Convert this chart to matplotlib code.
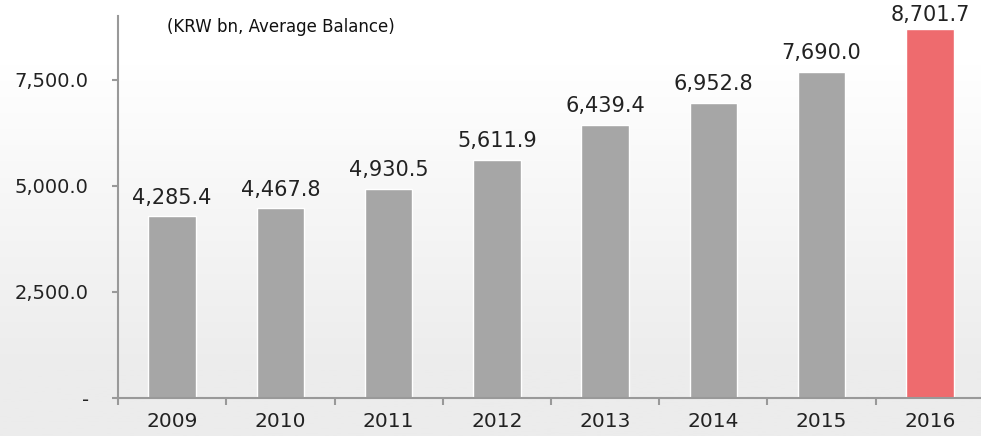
import numpy as np
import matplotlib.pyplot as plt
from matplotlib.ticker import FuncFormatter

years = ["2009", "2010", "2011", "2012", "2013", "2014", "2015", "2016"]
balance = [4285.4, 4467.8, 4930.5, 5611.9, 6439.4, 6952.8, 7690.0, 8701.7]
colors = ["#a6a6a6"] * 7 + ["#ee6b6e"]

fig = plt.figure(figsize=(9.81, 4.36), dpi=100)

# background gradient, white on top to light gray at the bottom
bg = fig.add_axes([0, 0, 1, 1], zorder=-1)
grad = np.linspace(0, 1, 256).reshape(-1, 1)
grad = np.clip((grad - 0.15) / 0.7, 0, 1)
shade = 1 - grad * (1 - 0xec / 255)
bg.imshow(np.dstack([shade, shade, shade]), aspect="auto", extent=[0, 1, 0, 1], origin="upper")
bg.axis("off")

ax = fig.add_axes([118 / 981, 38 / 436, 866 / 981, 382 / 436])
ax.patch.set_alpha(0)
x = np.arange(len(years))
bars = ax.bar(x, balance, width=0.44, color=colors, edgecolor="white", linewidth=1)

# labels sit above the bars, the last one is squeezed under the top edge
for xi, v in zip(x, balance):
    ax.text(xi, min(v + 200, 8790), f"{v:,.1f}", ha="center", va="bottom", fontsize=15, color="#222222")

ax.set_xlim(-0.5, 7.5)
ax.set_ylim(0, 9000)
ax.set_yticks([0, 2500, 5000, 7500])
ax.yaxis.set_major_formatter(FuncFormatter(lambda v, p: "-" if v == 0 else f"{v:,.1f}"))
ax.set_xticks(x)
ax.set_xticklabels(years)
ax.set_xticks(np.arange(-0.5, 8, 1), minor=True)
ax.tick_params(axis="x", which="major", length=0, labelsize=14.5, pad=10, colors="#222222")
ax.tick_params(axis="x", which="minor", length=5, direction="out", color="#999999", width=1.5)
ax.tick_params(axis="y", length=4, width=1.5, color="#999999", labelsize=14, pad=17, labelcolor="#222222")

for s in ["top", "right"]:
    ax.spines[s].set_visible(False)
for s in ["left", "bottom"]:
    ax.spines[s].set_color("#999999")
    ax.spines[s].set_linewidth(1.5)

fig.text(167 / 981, 1 - 27 / 436, "(KRW bn, Average Balance)", fontsize=12, va="center", ha="left", color="#111111")

fig.savefig("out.png", dpi=100)
